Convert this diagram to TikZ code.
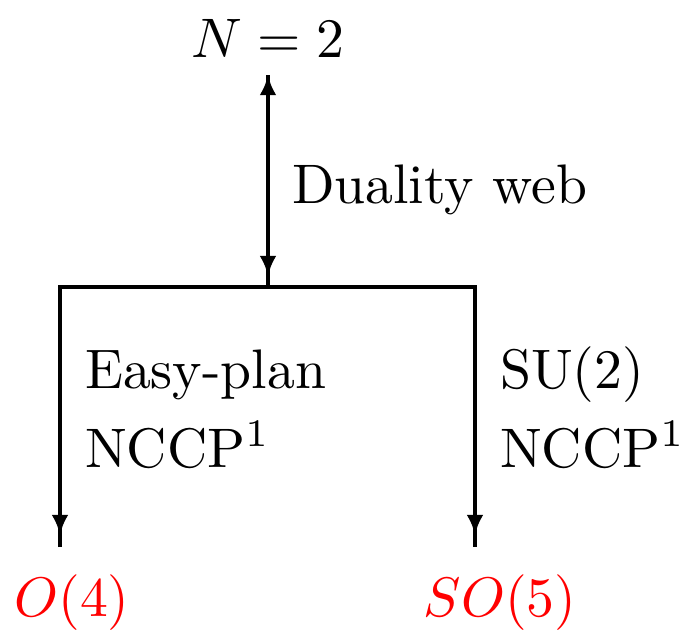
\documentclass[tikz,border=0pt]{standalone}
\usetikzlibrary{arrows.meta}
\begin{document}
\begin{tikzpicture}[x=0.1795pt,y=-0.1795pt,
  conn/.style={line width=0.8pt},
  tipline/.style={line width=0.8pt,-{Latex[length=3.6pt,width=3pt]}},
  lbl/.style={anchor=west,inner sep=0pt},
  res/.style={text=red,inner sep=0pt}]
\useasboundingbox (0,0) rectangle (687,636);
\node[inner sep=0pt] (N) at (268,38) {$N=2$};
\coordinate (top) at (268,75);
\coordinate (topstart) at (268,100);
\coordinate (j) at (268,287);
\coordinate (jtip) at (268,276);
\coordinate (L) at (60,287);
\coordinate (R) at (475,287);
\coordinate (Lend) at (60,547);
\coordinate (Rend) at (475,547);
\coordinate (Ltip) at (60,535);
\coordinate (Rtip) at (475,535);
\draw[conn] (top) -- (j);
\draw[tipline] (topstart) -- (top);
\draw[tipline] (268,250) -- (jtip);
\draw[conn] (Lend) -- (L) -- (R) -- (Rend);
\draw[tipline] (60,500) -- (Ltip);
\draw[tipline] (475,500) -- (Rtip);
\node[lbl] (dw) at (291,190) {Duality web};
\node[lbl] (ep) at (84,375) {Easy-plan};
\node[lbl] (nl) at (84,445) {NCCP$^1$};
\node[lbl] (su) at (499,375) {SU(2)};
\node[lbl] (nr) at (499,445) {NCCP$^1$};
\node[res] (o4) at (72,603) {$O(4)$};
\node[res] (so5) at (500,603) {$SO(5)$};
\end{tikzpicture}
\end{document}
